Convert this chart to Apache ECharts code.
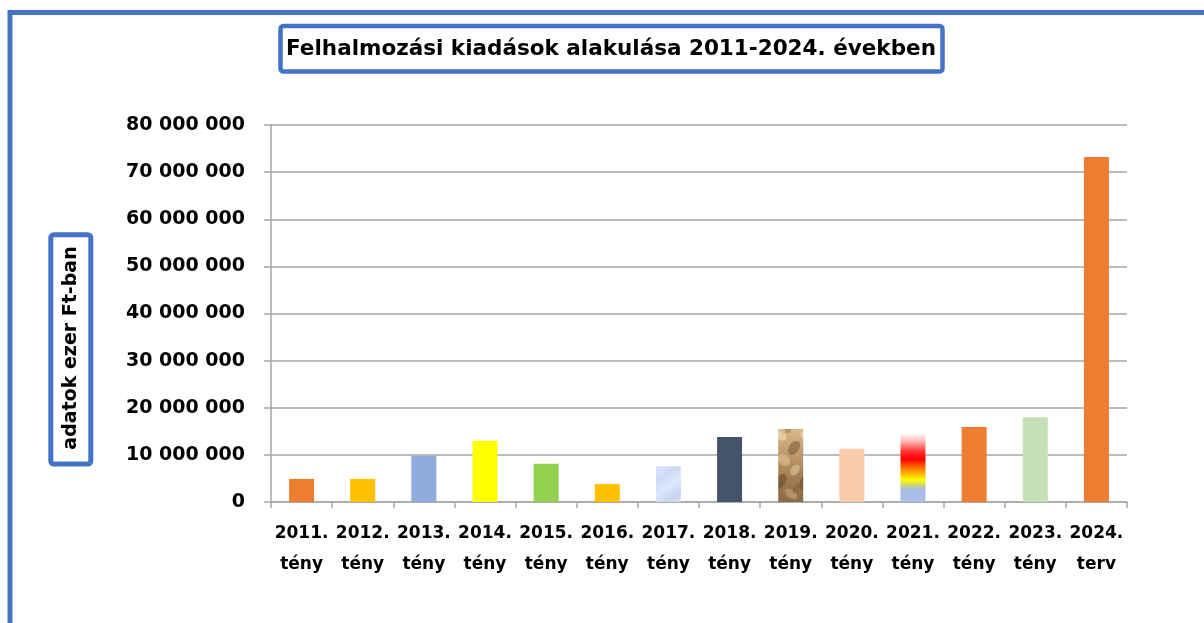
<!DOCTYPE html>
<html>
<head>
<meta charset="utf-8">
<script src="https://cdn.jsdelivr.net/npm/echarts@6/dist/echarts.min.js"></script>
<style>
  html, body { margin: 0; padding: 0; background: #fff; }
  #main { width: 1204px; height: 623px; }
</style>
</head>
<body>
<div id="main"></div>
<script>
// adatok
const years = ['2011.', '2012.', '2013.', '2014.', '2015.', '2016.', '2017.', '2018.', '2019.', '2020.', '2021.', '2022.', '2023.', '2024.'];
const statuses = ['tény', 'tény', 'tény', 'tény', 'tény', 'tény', 'tény', 'tény', 'tény', 'tény', 'tény', 'tény', 'tény', 'terv'];
const values = [4900000, 4900000, 9800000, 13000000, 8100000, 3800000, 7600000, 13800000, 15500000, 11300000, 14600000, 15900000, 18000000, 73200000];
const yTicks = [0, 10000000, 20000000, 30000000, 40000000, 50000000, 60000000, 70000000, 80000000];

const FONT = 'DejaVu Sans';
const BLUE = '#4472C4';

// kő minta a 2019-es oszlophoz (a vászon magasságában, hogy ne legyen illesztés)
function stoneTexture() {
    const c = document.createElement('canvas');
    c.width = 25; c.height = 623;
    const g = c.getContext('2d');
    const grad = g.createLinearGradient(0, 425, 0, 505);
    grad.addColorStop(0, '#DDBD90');
    grad.addColorStop(0.35, '#C09A6C');
    grad.addColorStop(0.7, '#A07A50');
    grad.addColorStop(1, '#8A6842');
    g.fillStyle = grad;
    g.fillRect(0, 0, 25, 623);
    const blobs = [
        [6, 436, 6, 4, 'rgba(240,215,175,0.7)'], [19, 448, 5, 8, 'rgba(120,88,55,0.55)'],
        [9, 460, 7, 5, 'rgba(225,195,150,0.6)'], [20, 470, 4, 6, 'rgba(230,205,165,0.55)'],
        [5, 482, 5, 9, 'rgba(100,72,45,0.55)'], [16, 494, 7, 4, 'rgba(200,165,120,0.6)'],
        [13, 430, 3, 3, 'rgba(150,115,75,0.5)'], [22, 488, 3, 6, 'rgba(130,98,62,0.5)']
    ];
    blobs.forEach(b => {
        g.fillStyle = b[4];
        g.beginPath();
        g.ellipse(b[0], b[1], b[2], b[3], 0.6, 0, Math.PI * 2);
        g.fill();
    });
    return c;
}

const barColors = [
    '#ED7D31', '#FFC000', '#8FAADC', '#FFFF00', '#92D050', '#FFC000',
    new echarts.graphic.LinearGradient(0, 0, 1, 1, [
        { offset: 0, color: '#DCE6FA' }, { offset: 0.3, color: '#CCDAF5' },
        { offset: 0.55, color: '#DEE8FB' }, { offset: 0.8, color: '#C6D5F1' },
        { offset: 1, color: '#D8E3F8' }
    ]),
    '#44546A',
    { image: stoneTexture(), repeat: 'repeat' },
    '#F8CBAD',
    new echarts.graphic.LinearGradient(0, 0, 0, 1, [
        { offset: 0, color: '#FFFFFF' }, { offset: 0.12, color: '#FFB4B4' },
        { offset: 0.27, color: '#FF3030' }, { offset: 0.38, color: '#FF0000' },
        { offset: 0.5, color: '#FF7000' }, { offset: 0.6, color: '#FFC000' },
        { offset: 0.68, color: '#FFFF00' }, { offset: 0.76, color: '#C9D27A' },
        { offset: 0.82, color: '#A9BDE6' }, { offset: 1, color: '#A9BDE6' }
    ]),
    '#ED7D31', '#C5E0B4', '#ED7D31'
];

const categories = years.map((y, i) => y + '\n' + statuses[i]);

function fmt(v) {
    return String(v).replace(/\B(?=(\d{3})+(?!\d))/g, ' ');
}

const chart = echarts.init(document.getElementById('main'));

const option = {
    animation: false,
    backgroundColor: '#fff',
    title: {
        text: 'Felhalmozási kiadások alakulása 2011-2024. években',
        left: 611,
        top: 49,
        textAlign: 'center',
        textVerticalAlign: 'middle',
        padding: 0,
        textStyle: { fontFamily: FONT, fontWeight: 'bold', fontSize: 21.5, color: '#000' }
    },
    grid: { left: 271, right: 77, top: 125, bottom: 121, containLabel: false },
    xAxis: {
        type: 'category',
        data: categories,
        axisLine: { lineStyle: { color: '#A6A6A6', width: 1.5 } },
        axisTick: { show: true, length: 6, lineStyle: { color: '#A6A6A6', width: 1.5 } },
        axisLabel: {
            interval: 0,
            margin: 16,
            lineHeight: 31,
            fontFamily: FONT,
            fontWeight: 'bold',
            fontSize: 17,
            color: '#000'
        }
    },
    yAxis: {
        type: 'value',
        min: yTicks[0],
        max: yTicks[yTicks.length - 1],
        interval: yTicks[1] - yTicks[0],
        axisLine: { show: true, lineStyle: { color: '#A6A6A6', width: 1.5 } },
        axisTick: { show: true, length: 7, lineStyle: { color: '#A6A6A6', width: 1.5 } },
        splitLine: { lineStyle: { color: '#A6A6A6', width: 1.5 } },
        axisLabel: {
            margin: 26,
            formatter: fmt,
            fontFamily: FONT,
            fontWeight: 'bold',
            fontSize: 19,
            color: '#000'
        }
    },
    series: [{
        type: 'bar',
        barWidth: 25,
        data: values.map((v, i) => ({ value: v, itemStyle: { color: barColors[i] } }))
    }],
    graphic: [
        {
            type: 'rect',
            shape: { x: 10, y: 12.5, width: 1300, height: 700 },
            style: { fill: 'none', stroke: BLUE, lineWidth: 5 },
            silent: true
        },
        {
            type: 'rect',
            shape: { x: 280.5, y: 26, width: 662, height: 45.5, r: 3 },
            style: { fill: 'none', stroke: BLUE, lineWidth: 4.5 },
            silent: true
        },
        {
            type: 'rect',
            shape: { x: 50.8, y: 234.7, width: 40, height: 229.3, r: 3 },
            style: { fill: 'none', stroke: BLUE, lineWidth: 5 },
            silent: true
        },
        {
            type: 'text',
            x: 71,
            y: 348,
            rotation: Math.PI / 2,
            style: {
                text: 'adatok ezer Ft-ban',
                fill: '#000',
                font: 'bold 19px "DejaVu Sans"',
                align: 'center',
                verticalAlign: 'middle'
            },
            silent: true
        }
    ]
};

chart.setOption(option);
</script>
</body>
</html>
